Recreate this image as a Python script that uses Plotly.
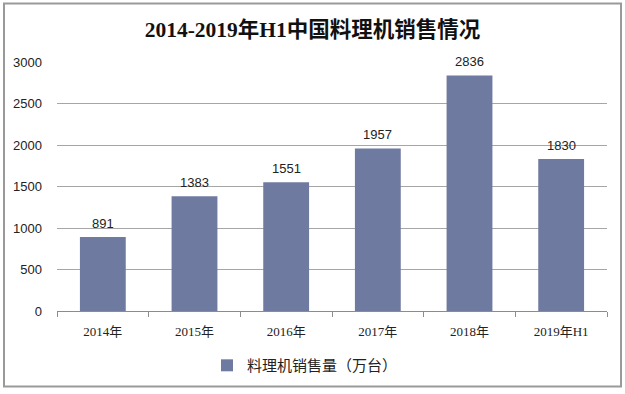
import plotly.graph_objects as go

categories = ["2014年", "2015年", "2016年", "2017年", "2018年", "2019年H1"]
sales = [891, 1383, 1551, 1957, 2836, 1830]
series_name = "料理机销售量（万台）"
title_text = "2014-2019年H1中国料理机销售情况"

W, H = 625, 394
L, R, T, B = 57, 18, 62, 81
pw, ph = W - L - R, H - T - B

def px_to_paper_x(x):
    return (x - L) / pw

def px_to_paper_y(y):
    return (H - B - y) / ph

fig = go.Figure()
fig.add_trace(go.Bar(
    x=categories, y=sales, name=series_name,
    marker=dict(color="#6f7aa1", line=dict(width=0)),
    width=0.5,
    cliponaxis=False,
))

annotations = [
    dict(x=c, y=v, xref="x", yref="y", text=str(v), showarrow=False,
         yanchor="middle", yshift=14,
         font=dict(family="Liberation Sans, Arial", size=13, color="#222"))
    for c, v in zip(categories, sales)
]

fig.update_layout(
    width=W, height=H,
    margin=dict(l=L, r=R, t=T, b=B),
    paper_bgcolor="white", plot_bgcolor="white",
    showlegend=True,
    legend=dict(orientation="h", x=px_to_paper_x(305), xanchor="center", y=px_to_paper_y(368), yanchor="middle",
                font=dict(family="Noto Sans CJK SC", size=15, color="#222"),
                itemwidth=30),
    title=dict(text="<b>" + title_text + "</b>", x=0.5, xanchor="center", y=1 - 29 / H, yanchor="middle",
               font=dict(family="Liberation Serif, Noto Sans CJK SC", size=21.5, color="#111")),
    font=dict(family="Liberation Sans, Arial", color="#222"),
    bargap=0.5,
    annotations=annotations,
    shapes=[dict(type="rect", xref="paper", yref="paper",
                 x0=px_to_paper_x(4), x1=px_to_paper_x(621),
                 y0=px_to_paper_y(389), y1=px_to_paper_y(3),
                 line=dict(color="#9a9a9a", width=2), layer="below")],
)
fig.update_xaxes(
    showline=True, linecolor="#8c8c8c", linewidth=1,
    ticks="outside", tickson="boundaries", ticklen=5, tickcolor="#8c8c8c",
    ticklabelstandoff=8,
    tickfont=dict(family="Liberation Serif, Noto Sans CJK SC", size=13, color="#222"),
    showgrid=False,
)
fig.update_yaxes(
    range=[0, 3000], tickvals=[0, 500, 1000, 1500, 2000, 2500, 3000],
    showgrid=True, gridcolor="#a6a6a6", gridwidth=1,
    showline=False, zeroline=False, ticks="", ticklabelstandoff=14,
    tickfont=dict(family="Liberation Sans, Arial", size=13, color="#222"),
)

fig.write_html("out.html", config={"displayModeBar": False},
               post_script="document.body.style.margin='0';document.body.style.overflow='hidden';")
